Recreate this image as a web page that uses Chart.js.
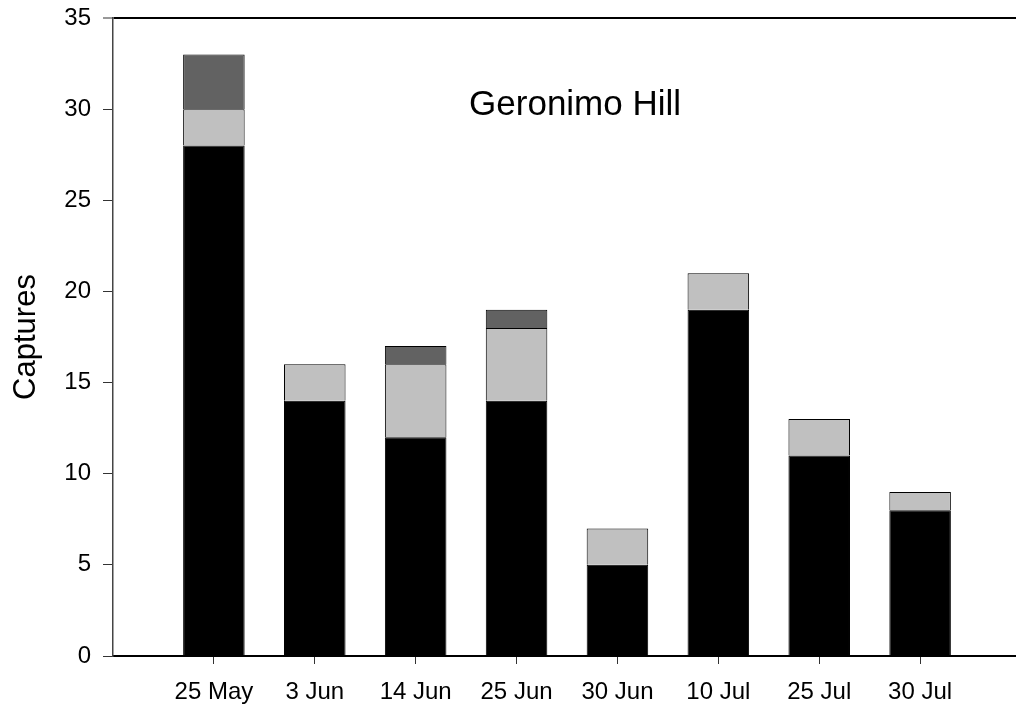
<!DOCTYPE html>
<html>
<head>
<meta charset="utf-8">
<script src="https://cdn.jsdelivr.net/npm/chart.js@4.4.1/dist/chart.umd.min.js"></script>
<style>
  html, body { margin: 0; padding: 0; background: #fff; overflow: hidden; }
  #wrap { width: 1016px; height: 711px; overflow: hidden; }
  canvas { display: block; }
</style>
</head>
<body>
<div id="wrap"><canvas id="c" width="1035" height="711"></canvas></div>
<script>
// Sampling dates (blank slots pad the axis on both sides)
const dates = ['25 May', '3 Jun', '14 Jun', '25 Jun', '30 Jun', '10 Jul', '25 Jul', '30 Jul'];
// Captures per date, stacked by group
const groupA = [28, 14, 12, 14, 5, 19, 11, 8];   // black
const groupB = [2, 2, 4, 4, 2, 2, 2, 1];         // light grey
const groupC = [3, 0, 1, 1, 0, 0, 0, 0];         // dark grey
const yTicks = [0, 5, 10, 15, 20, 25, 30, 35];
const siteName = 'Geronimo Hill';

const FONT = "'Liberation Sans', Arial, sans-serif";
const pad = arr => [null, ...arr.map(v => (v === 0 ? null : v)), null];
const labels = ['', ...dates, ''];

const siteLabel = {
  id: 'siteLabel',
  afterDraw(chart) {
    const { ctx, scales: { x, y } } = chart;
    ctx.save();
    ctx.font = `35px ${FONT}`;
    ctx.fillStyle = '#000';
    ctx.textAlign = 'center';
    ctx.textBaseline = 'middle';
    ctx.fillText(siteName, x.getPixelForValue(4.58), y.getPixelForValue(30.2));
    ctx.restore();
  }
};

const barStyle = (color) => ({
  backgroundColor: color,
  borderColor: '#000',
  borderWidth: 1,
  barPercentage: 0.61,
  categoryPercentage: 1
});

new Chart(document.getElementById('c'), {
  type: 'bar',
  data: {
    labels,
    datasets: [
      { label: 'A', data: pad(groupA), ...barStyle('#000000') },
      { label: 'B', data: pad(groupB), ...barStyle('#c0c0c0') },
      { label: 'C', data: pad(groupC), ...barStyle('#626262') }
    ]
  },
  options: {
    responsive: false,
    animation: false,
    devicePixelRatio: 1,
    layout: { padding: { top: 18, left: 0, right: 0, bottom: 0 } },
    plugins: { legend: { display: false }, tooltip: { enabled: false } },
    scales: {
      x: {
        stacked: true,
        offset: false,
        border: { display: true, color: '#000', width: 2 },
        grid: {
          offset: false,
          drawOnChartArea: false,
          drawTicks: true,
          tickLength: 8,
          color: (ctx) => (ctx.index === 0 || ctx.index === labels.length - 1) ? 'rgba(0,0,0,0)' : '#333',
          lineWidth: 1
        },
        ticks: {
          autoSkip: false,
          maxRotation: 0,
          padding: 14,
          color: '#000',
          font: { family: FONT, size: 24 }
        },
        afterFit(scale) { scale.height = 55; }
      },
      y: {
        stacked: true,
        min: 0,
        max: 35,
        afterBuildTicks(scale) { scale.ticks = yTicks.map(v => ({ value: v })); },
        border: { display: true, color: '#444', width: 1.5 },
        grid: {
          drawOnChartArea: true,
          drawTicks: true,
          tickLength: 10,
          color: (ctx) => (ctx.tick && ctx.tick.value === 35) ? '#000' : 'rgba(0,0,0,0)',
          lineWidth: (ctx) => (ctx.tick && ctx.tick.value === 35) ? 2 : 1,
          tickColor: '#333',
          tickWidth: 1
        },
        ticks: {
          padding: 12,
          color: '#000',
          font: { family: FONT, size: 24 }
        },
        title: {
          display: true,
          text: 'Captures',
          color: '#000',
          padding: { top: 8, bottom: 0 },
          font: { family: FONT, size: 31 }
        },
        afterFit(scale) {
          scale.width = 113;
          scale.paddingTop = 0;
          scale.paddingBottom = 0;
        }
      }
    }
  },
  plugins: [siteLabel]
});
</script>
</body>
</html>
